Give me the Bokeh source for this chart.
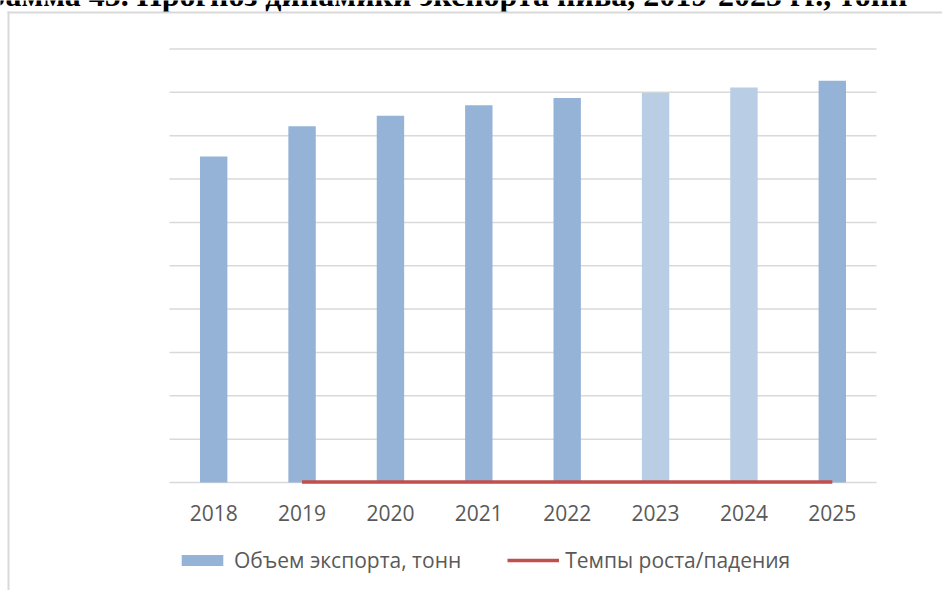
from bokeh.plotting import figure
from bokeh.models import (Range1d, FixedTicker, Legend, LegendItem,
                          Label, BoxAnnotation, ColumnDataSource)
from bokeh.embed import file_html
from bokeh.resources import INLINE

# ---- data ----
years = ["2018", "2019", "2020", "2021", "2022", "2023", "2024", "2025"]
export_volume = [75200, 82200, 84600, 87000, 88700, 89900, 91100, 92700]
is_forecast = [False, False, False, False, False, True, True, False]
growth_years = ["2019", "2020", "2021", "2022", "2023", "2024", "2025"]
growth_rate = [109.3, 102.9, 102.8, 102.0, 101.4, 101.3, 101.8]
y_ticks = [0, 10000, 20000, 30000, 40000, 50000, 60000, 70000, 80000, 90000, 100000]
title_text = "Диаграмма 45. Прогноз динамики экспорта пива, 2019-2025 гг., тонн"
legend_labels = ["Объем экспорта, тонн", "Темпы роста/падения"]

# ---- styles / layout (pixels) ----
FACT = "#95B3D7"
FORE = "#B9CDE5"
RED = "#C0504D"
GRID = "#D9D9D9"
TXT = "#595959"

W, H = 942, 590
PLOT_L, PLOT_R = 169, 876        # category area
PLOT_T, PLOT_B = 48.5, 482       # value area (top gridline .. baseline)

ncat = len(years)
xpos = list(range(ncat))
cat_px = (PLOT_R - PLOT_L) / ncat
x_start = -0.5 - PLOT_L / cat_px
x_end = x_start + W / cat_px
ymax = y_ticks[-1]
px_per_val = (PLOT_B - PLOT_T) / ymax
y_start = -(H - PLOT_B) / px_per_val
y_end = PLOT_B / px_per_val


def px2x(px):
    return x_start + px / cat_px


def py2y(py):
    return (PLOT_B - py) / px_per_val


src = ColumnDataSource(dict(
    x=xpos, top=export_volume,
    color=[FORE if f else FACT for f in is_forecast],
))

p = figure(width=W, height=H, x_range=Range1d(x_start, x_end),
           y_range=Range1d(y_start, y_end), output_backend="svg",
           toolbar_location=None, y_axis_location=None, title=None,
           min_border=0, min_border_left=0, min_border_right=0,
           min_border_top=0, min_border_bottom=0)
p.outline_line_color = None
p.background_fill_color = "white"
p.border_fill_color = "white"
p.grid.visible = False

# horizontal gridlines over the category area only
p.segment(x0=[-0.5] * len(y_ticks), x1=[ncat - 0.5] * len(y_ticks),
          y0=y_ticks, y1=y_ticks, line_color=GRID, line_width=1.5)

ax = p.xaxis[0]
ax.fixed_location = 0
ax.ticker = FixedTicker(ticks=xpos)
ax.major_label_overrides = {i: y for i, y in zip(xpos, years)}
ax.axis_line_color = None
ax.major_tick_line_color = None
ax.minor_tick_line_color = None
ax.major_label_text_font = "Open Sans"
ax.major_label_text_font_size = "21px"
ax.major_label_text_color = TXT
ax.major_label_standoff = 16

bars = p.vbar(x="x", top="top", width=0.31, fill_color="color", line_color=None,
              source=src)
line = p.line(x=[years.index(g) for g in growth_years], y=growth_rate,
              line_color=RED, line_width=3.5)

legend = Legend(items=[LegendItem(label=legend_labels[0], renderers=[bars], index=0),
                       LegendItem(label=legend_labels[1], renderers=[line])],
                location=(176, 16), orientation="horizontal",
                glyph_width=52, glyph_height=14, label_standoff=6, spacing=46,
                padding=0, margin=0, border_line_color=None,
                background_fill_alpha=0,
                label_text_font="Open Sans", label_text_font_size="21px",
                label_text_color=TXT)
p.add_layout(legend)

title = Label(x=px2x(907), y=py2y(-6), text=title_text, text_align="right",
              text_baseline="alphabetic",
              text_font="Liberation Serif", text_font_style="bold",
              text_font_size="32px", text_color="black")
p.add_layout(title)

# chart area border (left and top edges)
p.add_layout(BoxAnnotation(left=px2x(7), right=px2x(9), top=py2y(11), bottom=y_start,
                           fill_color=GRID, fill_alpha=1, line_color=None))
p.add_layout(BoxAnnotation(left=px2x(7), right=x_end, top=py2y(11), bottom=py2y(13),
                           fill_color=GRID, fill_alpha=1, line_color=None))

open("out.html", "w").write(file_html(p, INLINE))
